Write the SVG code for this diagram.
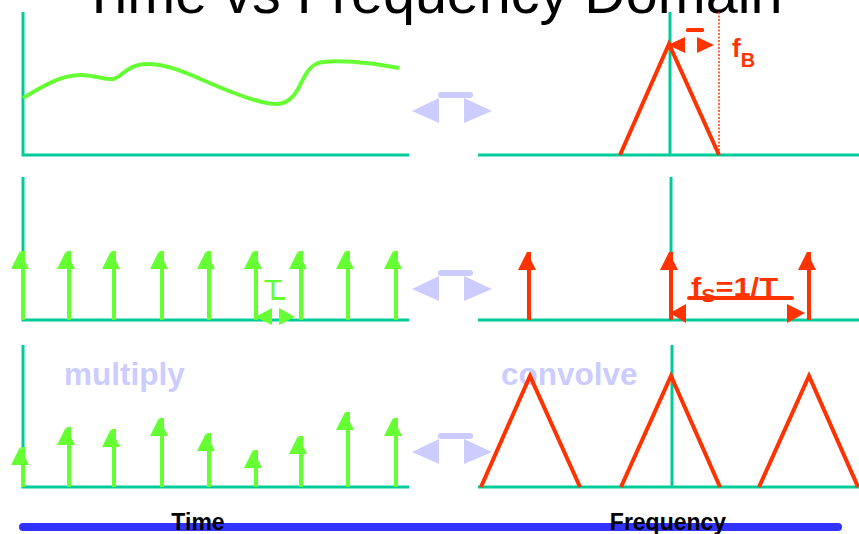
<svg xmlns="http://www.w3.org/2000/svg" xmlns:xlink="http://www.w3.org/1999/xlink" width="859" height="534" viewBox="0 0 859 534">
<style>
.ax{stroke:#00CC99;stroke-width:3;fill:none}
.gs{stroke:#66FF33;stroke-width:4;fill:none}
.rs{stroke:#FF3300;stroke-width:4;fill:none}
.gf{fill:#66FF33}
.rf{fill:#FF3300}
.bf{fill:#CCCCFF}
.lbl{font-family:"Liberation Sans",Arial,sans-serif;font-weight:bold}
</style>
<defs>
<path id="gh" class="gf" d="M-3,0 L6,18 L-12,18 Z"/>
<path id="rh" class="rf" d="M-2,0 L7,18 L-11,18 Z"/>
<g id="dbl" class="bf">
<path d="M412,111 L439,98 L439,123 Z"/>
<path d="M492,111 L464,98 L464,123 Z"/>
<rect x="438" y="92" width="35" height="6" rx="3"/>
</g>
</defs>
<rect width="859" height="534" fill="#fff"/>
<g id="title"><text x="432" y="13" font-family="Liberation Sans,Arial,sans-serif" font-size="57.5" text-anchor="middle" fill="#000">Time vs Frequency Domain</text></g>

<g id="axes">
<path class="ax" d="M23,12 V155 H409"/>
<path class="ax" d="M478,155 H859 M670,12 V155"/>
<path class="ax" d="M23,177 V320 H409"/>
<path class="ax" d="M478,320 H859 M671,177 V320"/>
<path class="ax" d="M23,345 V487 H409"/>
<path class="ax" d="M478,487 H859 M672,345 V487"/>
</g>

<g id="signal">
<path class="gs" d="M23,98 C40,88 60,75 80,75 C95,75 105,80 113,79 C121,78 127,64 147,64 C167,64 187,73 205,81 C230,92 260,104 276,104 C284,104 290,100 294,95 C302,85 305,68 318,63 C332,59 370,62 399,68"/>
</g>

<g id="spectrum">
<path class="rs" d="M620,155 L669,44 L719,155" stroke-linejoin="miter"/>
<line x1="719" y1="12" x2="719" y2="155" stroke="#FF3300" stroke-width="1.5" stroke-dasharray="2,1.5"/>
<path class="rf" d="M668,45 L685,37 L685,53 Z"/>
<path class="rf" d="M714,45 L697,37 L697,53 Z"/>
<rect class="rf" x="686" y="28" width="18" height="4" rx="1.5"/>
<text class="lbl" x="732" y="57" font-size="26" fill="#FF3300">f<tspan font-size="20" dy="10">B</tspan></text>
</g>

<g id="sampling-time">
<path class="gs" d="M23,251 V320 M69,251 V320 M114,251 V320 M162,251 V320 M209,251 V320 M256,251 V320 M301,251 V320 M348,251 V320 M396,251 V320"/>
<use xlink:href="#gh" x="23" y="251"/>
<use xlink:href="#gh" x="69" y="251"/>
<use xlink:href="#gh" x="114" y="251"/>
<use xlink:href="#gh" x="162" y="251"/>
<use xlink:href="#gh" x="209" y="251"/>
<use xlink:href="#gh" x="256" y="251"/>
<use xlink:href="#gh" x="301" y="251"/>
<use xlink:href="#gh" x="348" y="251"/>
<use xlink:href="#gh" x="396" y="251"/>
<path class="gf" d="M255,317 L272,308 L272,325 Z"/>
<path class="gf" d="M295,317 L279,308 L279,325 Z"/>
<text x="273" y="300" font-family="Liberation Sans,Arial,sans-serif" font-size="30" text-anchor="middle" fill="#66FF33">T</text>
<rect class="gf" x="272" y="297" width="13" height="3"/>
</g>

<g id="sampling-freq">
<path class="rs" d="M529,252 V320 M671,252 V320 M809,252 V320"/>
<use xlink:href="#rh" x="529" y="252"/>
<use xlink:href="#rh" x="671" y="252"/>
<use xlink:href="#rh" x="809" y="252"/>
<path class="rf" d="M670,313 L686,304 L686,323 Z"/>
<path class="rf" d="M805,313 L787,304 L787,323 Z"/>
<rect class="rf" x="687" y="296" width="107" height="4" rx="2"/>
<text class="lbl" x="691" y="296" font-size="26" fill="#FF3300" textLength="87" lengthAdjust="spacingAndGlyphs">f<tspan font-size="18" dy="6">S</tspan><tspan dy="-6">=1/T</tspan></text>
</g>

<g id="sampled-time">
<path class="gs" d="M23,447 V487 M69,427 V487 M114,429 V487 M162,418 V487 M209,433 V487 M256,450 V487 M301,436 V487 M348,412 V487 M396,418 V487"/>
<use xlink:href="#gh" x="23" y="447"/>
<use xlink:href="#gh" x="69" y="427"/>
<use xlink:href="#gh" x="114" y="429"/>
<use xlink:href="#gh" x="162" y="418"/>
<use xlink:href="#gh" x="209" y="433"/>
<use xlink:href="#gh" x="256" y="450"/>
<use xlink:href="#gh" x="301" y="436"/>
<use xlink:href="#gh" x="348" y="412"/>
<use xlink:href="#gh" x="396" y="418"/>
<text class="lbl" x="64" y="385" font-size="31.5" fill="#CCCCFF">multiply</text>
</g>

<g id="sampled-freq">
<text class="lbl" x="501" y="385" font-size="31.5" fill="#CCCCFF">convolve</text>
<path class="rs" d="M481,487 L530,376 L580,487 M621,487 L671,376 L720,487 M759,487 L809,376 L858,487"/>
</g>

<g id="connectors">
<use xlink:href="#dbl"/>
<use xlink:href="#dbl" y="178"/>
<use xlink:href="#dbl" y="341"/>
</g>

<g id="footer">
<line x1="23" y1="527" x2="838" y2="527" stroke="#3333FF" stroke-width="8" stroke-linecap="round"/>
<text class="lbl" x="198" y="530" font-size="23" text-anchor="middle" fill="#000">Time</text>
<text class="lbl" x="668" y="530" font-size="23" text-anchor="middle" fill="#000">Frequency</text>
</g>
</svg>
